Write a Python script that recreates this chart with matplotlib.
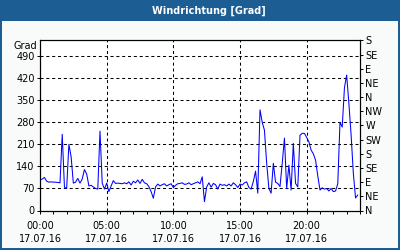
import numpy as np
import matplotlib
matplotlib.use("Agg")
import matplotlib.pyplot as plt
from matplotlib.patches import Rectangle

plt.rcParams['font.family'] = ['DejaVu Sans']
plt.rcParams['lines.scale_dashes'] = False

title = "Windrichtung [Grad]"
y_unit = "Grad"
# wind direction in degrees, 10-minute samples from 00:00 to 23:50 on 17.07.16
wind_dir = [97, 100, 105, 93, 90, 91, 90, 90, 89, 88,
            242, 74, 70, 210, 171, 87, 90, 102, 87, 100,
            130, 116, 78, 80, 75, 70, 68, 252, 87, 68,
            87, 60, 78, 95, 86, 87, 86, 85, 88, 85,
            91, 81, 93, 88, 97, 86, 99, 88, 85, 76,
            60, 39, 75, 84, 78, 82, 85, 78, 82, 85,
            73, 80, 85, 86, 88, 83, 84, 88, 82, 85,
            88, 91, 85, 107, 28, 75, 88, 74, 86, 82,
            68, 84, 80, 82, 78, 84, 78, 88, 82, 73,
            84, 81, 88, 91, 73, 68, 92, 125, 55, 320,
            280, 255, 150, 70, 55, 150, 90, 86, 76, 150,
            230, 70, 144, 65, 213, 86, 75, 239, 245, 245,
            232, 218, 192, 180, 160, 110, 65, 72, 68, 70,
            62, 70, 60, 62, 85, 280, 265, 390, 430, 340,
            240, 118, 40, 49]
sample_minutes = 10
hours = np.arange(len(wind_dir)) * sample_minutes / 60.0

x_major = [0, 5, 10, 15, 20]
x_major_labels = ["00:00\n17.07.16", "05:00\n17.07.16", "10:00\n17.07.16",
                  "15:00\n17.07.16", "20:00\n17.07.16"]
x_minor = list(range(0, 25))
left_ticks = [0, 70, 140, 210, 280, 350, 420, 490]
right_ticks = [0, 45, 90, 135, 180, 225, 270, 315, 360, 405, 450, 495, 540]
right_labels = ["N", "NE", "E", "SE", "S", "SW", "W", "NW", "N", "NE", "E", "SE", "S"]

W, H = 400, 250
fig = plt.figure(figsize=(4, 2.5), dpi=100)
frame_blue = '#1c5e94'
fig.patch.set_facecolor(frame_blue)
fig.add_artist(Rectangle((2 / W, 2 / H), 396 / W, 227 / H, transform=fig.transFigure,
                         facecolor='#f8fbf9', edgecolor='none', zorder=-1))
fig.text(209 / W, 1 - 10.5 / H, title, color='white', fontsize=7, fontweight='bold',
         ha='center', va='center')

ax = fig.add_axes([40 / W, (H - 210.5) / H, 320 / W, 170 / H])
ax.set_facecolor('white')
ax.plot(hours, wind_dir, color='#0000ff', lw=0.75, zorder=3)
ax.set_xlim(0, 24)
ax.set_ylim(0, 540)
ax.set_xticks(x_major)
ax.set_xticklabels(x_major_labels, linespacing=1.4)
ax.set_xticks(x_minor, minor=True)
ax.set_yticks(left_ticks)
ax.set_yticklabels([str(v) for v in left_ticks])
ax.grid(True, which='major', color='black', linestyle=(0, (2.2, 2.0)), lw=0.75)
for s in ax.spines.values():
    s.set_color('black')
    s.set_linewidth(0.8)
ax.tick_params(axis='both', which='both', direction='out', length=2.3, width=0.7,
               labelsize=7, pad=1.5, colors='black')
ax.tick_params(axis='x', which='major', pad=5)

ax2 = ax.twinx()
ax2.set_ylim(0, 540)
ax2.set_yticks(right_ticks)
ax2.set_yticklabels(right_labels)
ax2.tick_params(axis='y', direction='out', length=2.3, width=0.7, labelsize=7, pad=1.5)
for s in ax2.spines.values():
    s.set_linewidth(0.8)

fig.text(37 / W, 1 - 46 / H, y_unit, fontsize=7, ha='right', va='center')

fig.savefig('out.png', dpi=100, facecolor=fig.get_facecolor())
